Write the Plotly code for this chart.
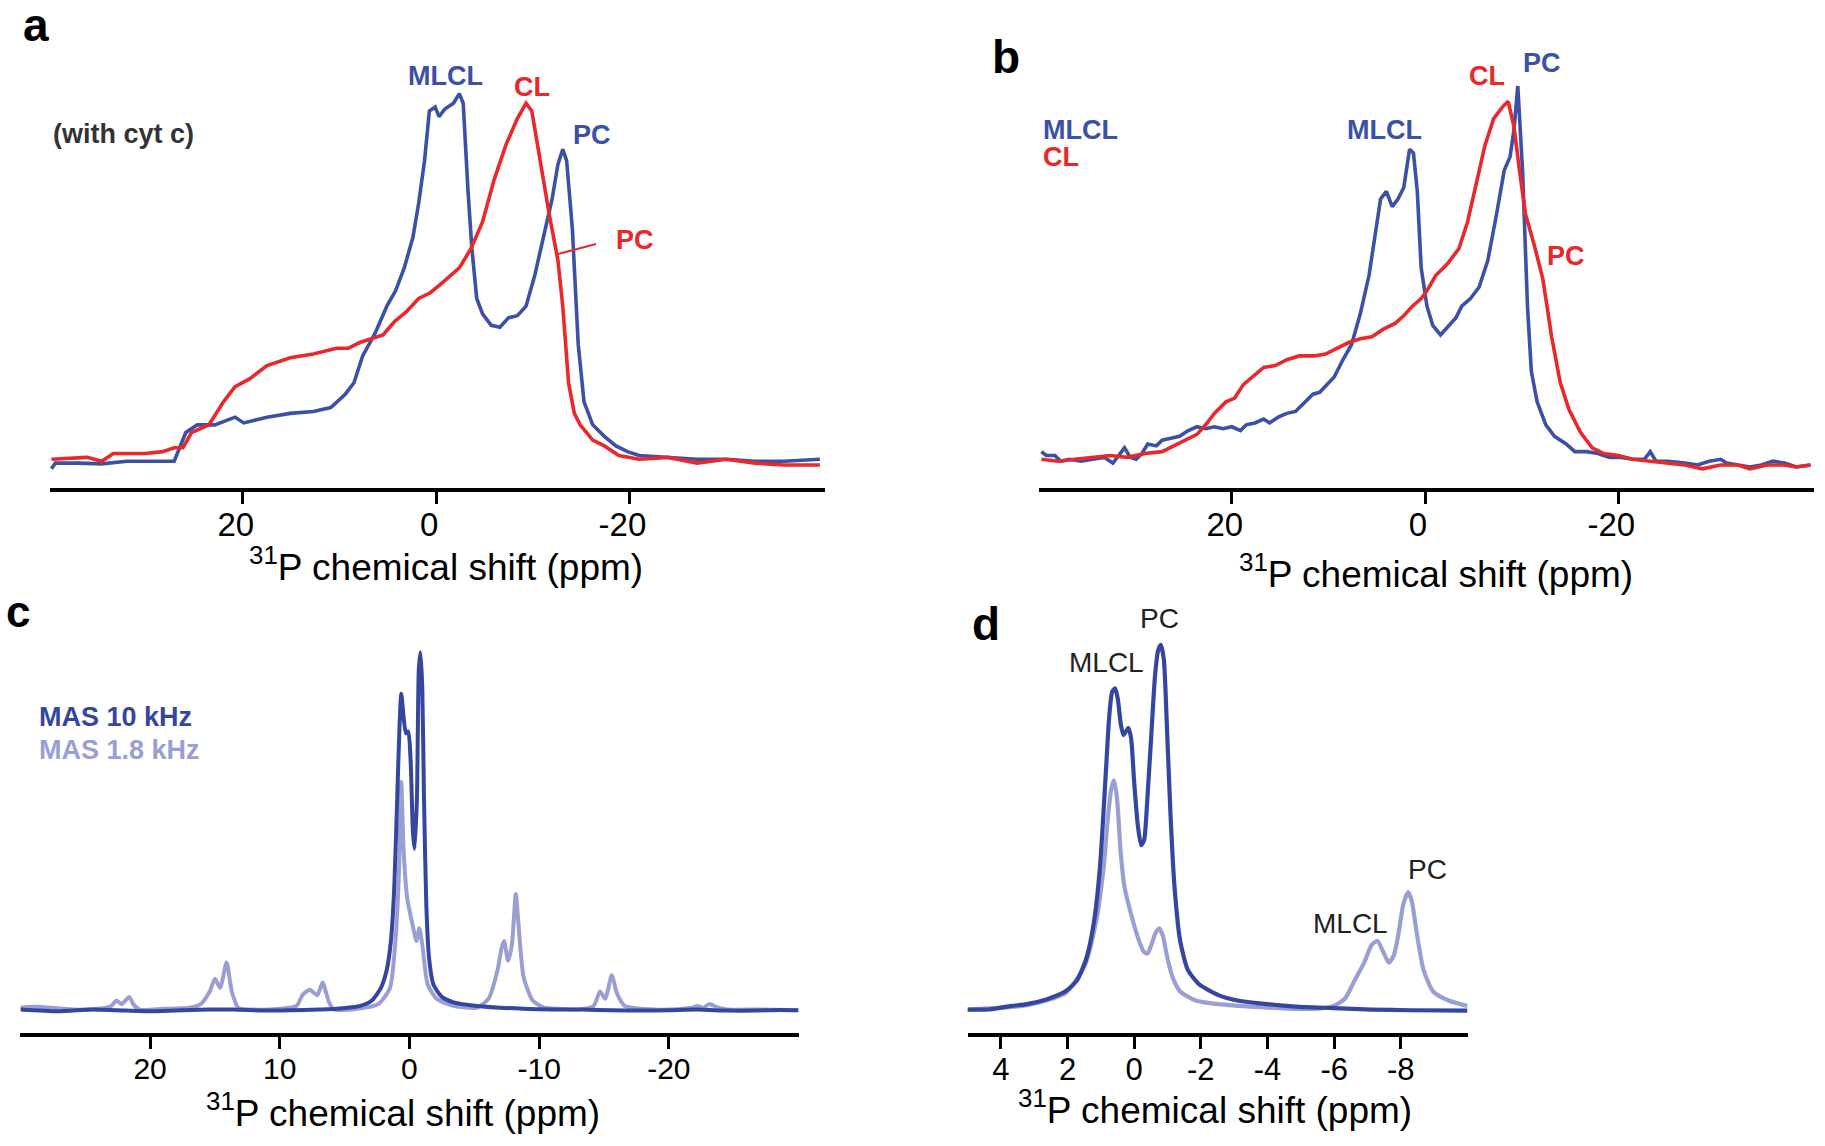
import plotly.graph_objects as go

W, H = 1825, 1146

# ---------------- data (ppm, intensity in arbitrary units) ----------------
a_blue_ppm = [39.8, 39.4, 37.0, 34.6, 32.0, 29.5, 27.1, 25.9, 24.7, 22.9, 20.8, 19.9, 17.5, 15.1, 12.7, 10.9, 10.3, 9.4, 8.5, 7.6,
              6.3, 5.1, 4.2, 3.3, 2.4, 1.8, 1.2, 0.7, 0.1, -0.3, -0.9, -1.8, -2.4, -2.8, -3.3, -3.7, -4.2, -4.8, -5.7, -6.6,
              -7.5, -8.4, -9.3, -10.2, -11.1, -12.0, -12.6, -13.1, -13.5, -14.1, -14.7, -15.3, -16.2, -17.4, -18.6, -19.8,
              -21.0, -24.0, -27.0, -30.0, -33.0, -36.0, -39.7]
a_blue_int = [2.5, 4.0, 4.0, 3.8, 4.5, 4.5, 4.5, 12.0, 14.0, 14.0, 16.0, 14.5, 16.0, 17.0, 17.5, 18.5, 20.0, 22.0, 25.0, 32.0,
              38.0, 45.0, 49.0, 55.0, 63.0, 72.0, 83.0, 96.0, 97.0, 94.5, 96.5, 98.0, 100.5, 98.0, 75.0, 60.0, 47.0, 43.0, 40.0, 39.5,
              42.0, 42.5, 45.0, 53.0, 63.0, 73.0, 82.0, 86.0, 83.0, 65.0, 35.0, 20.0, 14.0, 11.0, 8.5, 7.0,
              6.0, 5.5, 5.0, 5.0, 4.5, 4.5, 5.0]

a_red_ppm = [39.8, 36.1, 34.6, 33.4, 30.1, 28.3, 27.1, 26.2, 25.3, 23.5, 22.0, 20.8, 19.3, 17.5, 15.1, 12.7, 10.3, 9.1, 7.9, 5.5,
             4.3, 3.1, 1.8, 0.6, -0.6, -2.4, -3.6, -4.8, -6.0, -7.2, -8.4, -9.3, -9.9, -10.5, -11.1, -11.7, -12.6, -13.1, -13.7,
             -14.3, -14.9, -16.2, -17.4, -18.9, -21.0, -24.0, -27.0, -30.0, -33.0, -36.0, -39.7]
a_red_int = [5.0, 5.5, 4.5, 6.5, 6.5, 7.0, 8.0, 8.0, 12.0, 14.0, 20.0, 24.0, 26.0, 29.5, 31.5, 32.5, 34.0, 34.0, 35.5, 37.5,
             41.0, 43.5, 47.0, 48.5, 51.0, 55.0, 60.0, 67.0, 78.0, 87.0, 94.0, 98.0, 96.0, 87.0, 78.0, 69.0, 57.0, 45.0, 25.0,
             17.0, 14.0, 10.0, 8.5, 6.0, 5.0, 5.5, 4.0, 5.0, 4.0, 3.5, 3.5]

b_blue_ppm = [39.7, 39.2, 38.3, 37.7, 36.8, 35.6, 34.4, 33.2, 32.3, 31.7, 31.1, 30.5, 29.9, 29.3, 28.7, 27.8, 27.2, 26.3, 25.4, 24.5,
              23.6, 22.7, 21.8, 20.9, 20.0, 19.1, 18.5, 17.6, 16.7, 16.1, 15.2, 14.3, 13.4, 12.8, 11.6, 10.9, 10.0, 9.4, 8.5, 7.6,
              6.7, 5.8, 5.2, 4.6, 4.0, 3.4, 2.8, 2.2, 1.6, 1.2, 0.8, 0.4, -0.2, -0.8, -1.6, -2.3, -3.2, -3.8, -4.7, -5.6,
              -6.5, -7.4, -8.2, -8.8, -9.2, -9.6, -10.1, -10.6, -11.0, -11.6, -12.5, -13.4, -14.6, -15.5, -16.7, -17.9, -19.1, -20.3,
              -21.5, -22.7, -23.3, -23.9, -25.1, -26.9, -28.2, -29.4, -30.6, -31.2, -32.4, -33.6, -34.8, -36.0, -37.2, -38.4, -39.9]
b_blue_int = [7.0, 6.0, 6.0, 4.5, 5.0, 4.5, 5.0, 5.5, 4.0, 6.0, 8.0, 5.5, 5.0, 6.5, 9.0, 8.5, 10.0, 10.5, 11.0, 12.5,
              13.5, 13.0, 13.5, 13.0, 13.5, 12.5, 14.0, 14.5, 15.5, 14.5, 16.0, 17.0, 17.5, 19.0, 22.0, 22.5, 25.0, 26.5, 31.0, 35.0,
              43.0, 53.0, 63.0, 73.0, 75.0, 71.0, 73.0, 76.0, 86.0, 85.0, 75.0, 55.0, 45.0, 40.0, 37.5, 39.5, 42.0, 45.0, 47.0, 50.0,
              57.0, 69.0, 80.5, 84.0, 91.0, 102.5, 80.0, 45.0, 28.0, 20.0, 14.0, 11.0, 9.0, 7.0, 7.0, 6.5, 5.5, 5.5,
              5.0, 5.0, 7.0, 4.5, 4.5, 4.0, 3.5, 4.5, 5.0, 4.0, 3.5, 3.0, 3.5, 4.5, 4.0, 3.0, 3.5]

b_red_ppm = [39.7, 38.0, 36.2, 34.4, 32.6, 30.8, 29.0, 27.2, 26.0, 24.8, 23.6, 22.7, 21.8, 20.6, 19.7, 18.8, 17.6, 16.7, 15.5, 14.3,
             13.0, 11.5, 10.3, 9.1, 7.9, 6.7, 5.5, 4.3, 3.1, 2.2, 1.3, 0.4, -0.2, -1.1, -2.3, -3.5, -4.4, -5.3, -6.2, -7.1,
             -8.0, -8.6, -9.2, -9.8, -10.4, -11.3, -12.2, -13.1, -14.0, -14.9, -16.1, -17.3, -18.5, -20.0, -21.5, -23.3, -25.1,
             -26.9, -28.7, -30.6, -32.4, -33.6, -35.4, -37.2, -38.4, -39.9]
b_red_int = [5.0, 4.5, 5.0, 5.5, 6.0, 5.5, 6.5, 7.0, 8.5, 10.0, 11.5, 14.0, 17.0, 20.0, 21.0, 24.5, 27.0, 29.0, 29.5, 31.0,
             32.0, 32.0, 32.5, 34.0, 35.5, 36.5, 37.0, 39.0, 40.5, 42.5, 45.0, 47.0, 49.0, 53.0, 56.0, 60.0, 67.0, 77.0, 87.0, 94.0,
             97.0, 98.5, 92.0, 80.0, 69.0, 61.0, 52.0, 37.0, 25.0, 18.0, 12.0, 8.0, 6.5, 6.0, 5.0, 4.5, 4.0,
             3.5, 2.5, 3.5, 3.5, 2.5, 3.5, 3.5, 3.0, 3.5]

c_fast_ppm = [30.0, 27.1, 24.5, 22.6, 20.0, 18.1, 15.5, 13.6, 11.0, 9.1, 7.0, 5.6, 3.8, 2.9, 2.2, 1.75, 1.43, 1.17, 0.94, 0.76,
              0.63, 0.45, 0.27, 0.09, -0.09, -0.27, -0.4, -0.58, -0.72, -0.85, -0.99, -1.12, -1.3, -1.52, -1.84, -2.5, -3.4, -5.2,
              -8.8, -11.0, -13.3, -15.5, -17.8, -20.0, -22.2, -24.5, -26.7, -28.5, -30.0]
c_fast_int = [6.0, 5.5, 6.0, 5.8, 5.5, 5.7, 6.0, 6.0, 5.7, 5.8, 6.0, 6.2, 7.0, 8.5, 12.0, 17.0, 25.0, 40.0, 65.0, 85.0,
              93.5, 87.0, 82.5, 83.0, 75.0, 55.0, 50.5, 65.0, 100.0, 105.0, 95.0, 65.0, 35.0, 20.0, 13.0, 9.5, 8.0, 7.0,
              6.2, 6.0, 6.0, 5.8, 5.7, 5.8, 6.0, 5.7, 5.7, 5.9, 5.8]

c_slow_ppm = [30.0, 28.9, 26.0, 24.0, 23.0, 22.6, 22.2, 21.6, 21.3, 20.8, 19.0, 17.0, 16.1, 15.4, 15.0, 14.6, 14.1, 13.7, 13.2, 12.0,
              10.0, 8.7, 8.25, 7.7, 7.1, 6.7, 6.2, 5.8, 4.0, 2.4, 1.5, 1.08, 0.8, 0.63, 0.45, 0.18, -0.27, -0.54, -0.76, -0.99,
              -1.4, -2.1, -3.4, -5.2, -6.1, -6.8, -7.1, -7.3, -7.6, -7.9, -8.2, -8.4, -8.8, -9.5, -10.4, -11.5, -13.0, -14.2, -14.7,
              -15.1, -15.6, -16.0, -16.6, -17.8, -20.0, -21.8, -22.2, -22.7, -23.1, -23.8, -24.5, -27.0, -30.0]
c_slow_int = [6.5, 6.8, 6.0, 6.2, 7.0, 8.5, 7.5, 9.5, 7.5, 6.0, 6.2, 6.5, 7.5, 11.0, 14.5, 12.0, 19.0, 11.0, 6.5, 6.0,
              6.2, 7.0, 10.0, 11.5, 10.0, 13.5, 8.0, 6.0, 6.2, 7.5, 12.0, 25.0, 45.0, 69.0, 50.0, 37.0, 29.0, 25.0, 28.5, 24.0,
              13.0, 9.0, 7.0, 6.5, 9.0, 17.0, 23.0, 25.0, 19.5, 24.0, 38.0, 30.0, 15.0, 8.5, 6.5, 6.2, 6.0, 7.0, 11.0,
              9.0, 15.5, 10.5, 7.0, 6.2, 6.0, 6.5, 7.0, 6.5, 7.5, 6.5, 6.0, 6.0, 5.8]

d_fast_ppm = [5.0, 4.37, 3.68, 3.22, 2.64, 2.07, 1.72, 1.44, 1.21, 1.03, 0.86, 0.75, 0.66, 0.57, 0.49, 0.40, 0.32, 0.25, 0.17, 0.09,
              0.0, -0.11, -0.21, -0.3, -0.4, -0.52, -0.63, -0.72, -0.8, -0.89, -0.98, -1.09, -1.21, -1.38, -1.61, -1.95, -2.53,
              -3.1, -3.68, -4.83, -5.98, -7.13, -8.28, -10.0]
d_fast_int = [6.0, 6.0, 7.0, 7.5, 8.8, 11.0, 14.0, 20.0, 30.0, 45.0, 70.0, 87.0, 94.0, 95.0, 92.0, 85.0, 82.0, 83.0, 84.0, 81.0,
              69.0, 57.0, 51.5, 53.0, 65.0, 83.0, 99.0, 105.5, 107.0, 103.0, 85.0, 60.0, 40.0, 25.0, 17.0, 13.0, 10.0,
              8.5, 7.8, 6.8, 6.4, 6.0, 5.8, 5.7]

d_slow_ppm = [5.0, 3.22, 2.07, 1.49, 1.15, 0.92, 0.78, 0.69, 0.61, 0.52, 0.40, 0.29, 0.11, -0.11, -0.29, -0.4, -0.52, -0.63, -0.75,
              -0.86, -0.98, -1.15, -1.38, -1.84, -2.53, -3.68, -4.83, -5.4, -5.98, -6.32, -6.61, -6.9, -7.13, -7.3, -7.47, -7.64,
              -7.79, -7.93, -8.07, -8.22, -8.33, -8.48, -8.68, -8.97, -9.43, -10.0]
d_slow_int = [6.0, 7.2, 10.5, 18.0, 30.0, 45.0, 60.0, 67.0, 69.5, 65.0, 49.0, 40.0, 33.0, 26.0, 22.0, 21.5, 24.0, 27.0, 28.5,
              26.5, 21.0, 15.0, 11.0, 8.5, 7.5, 6.7, 6.2, 6.2, 7.0, 9.0, 14.0, 19.0, 24.0, 25.0, 22.0, 19.0,
              21.0, 27.0, 35.0, 38.5, 36.0, 27.0, 17.0, 11.0, 8.5, 7.0]

ticks_ab = [20, 0, -20]
ticks_c = [20, 10, 0, -10, -20]
ticks_d = [4, 2, 0, -2, -4, -6, -8]
axis_title = "<sup>31</sup>P chemical shift (ppm)"

# ---------------- styling ----------------
BLUE = "#3c50a6"
RED = "#e8282b"
DARK = "#3546a0"
LIGHT = "#9a9fd3"
FONT = "Liberation Sans, Arial, sans-serif"


def px(x):
    return x / W


def py(y):
    return 1 - y / H


fig = go.Figure()

panels = {
    # name: (axis id, x pixel span, y pixel span (top, bottom), xrange, yrange, ticks, label shift, font size, standoff)
    "a": ("", (49.5, 824.7), (60, 488), [40, -40.2], [-2.5, 109.3], ticks_ab, 7, 33, -8),
    "b": ("2", (1038.5, 1813.5), (60, 488), [40, -40.2], [-2.5, 109.3], ticks_ab, 7, 33, -8),
    "c": ("3", (20.4, 798.5), (620, 1033), [30, -30], [-0.5, 113.9], ticks_c, 0, 30, -6),
    "d": ("4", (967.5, 1467.5), (620, 1033), [5, -10], [-0.5, 113.9], ticks_d, 0, 31, -6),
}

series = [
    ("a", a_blue_ppm, a_blue_int, BLUE, 3.6, "linear"),
    ("a", a_red_ppm, a_red_int, RED, 3.6, "linear"),
    ("b", b_blue_ppm, b_blue_int, BLUE, 3.6, "linear"),
    ("b", b_red_ppm, b_red_int, RED, 3.6, "linear"),
    ("c", c_slow_ppm, c_slow_int, LIGHT, 4.0, "spline"),
    ("c", c_fast_ppm, c_fast_int, DARK, 4.0, "spline"),
    ("d", d_slow_ppm, d_slow_int, LIGHT, 4.2, "spline"),
    ("d", d_fast_ppm, d_fast_int, DARK, 4.2, "spline"),
]

for name, xs, ys, col, lw, shape in series:
    sid = panels[name][0]
    line = dict(color=col, width=lw, shape=shape)
    if shape == "spline":
        line["smoothing"] = 0.6
    fig.add_trace(go.Scatter(x=xs, y=ys, mode="lines", line=line, showlegend=False,
                             xaxis="x" + sid, yaxis="y" + sid, hoverinfo="skip"))

layout = dict(width=W, height=H, margin=dict(l=0, r=0, t=0, b=0),
              paper_bgcolor="white", plot_bgcolor="white", showlegend=False)
for name, (sid, (x0, x1), (yt, yb), xr, yr, tv, shift, tfs, stand) in panels.items():
    layout["xaxis" + sid] = dict(domain=[px(x0), px(x1)], range=xr, anchor="y" + sid,
                                 showline=True, linecolor="black", linewidth=4,
                                 ticks="outside", ticklen=12, tickwidth=3, tickcolor="black",
                                 tickvals=tv, ticktext=[str(v) for v in tv],
                                 tickfont=dict(family=FONT, size=tfs, color="black"),
                                 ticklabelshift=shift, ticklabelstandoff=stand,
                                 showgrid=False, zeroline=False, fixedrange=True)
    layout["yaxis" + sid] = dict(domain=[py(yb), py(yt)], range=yr, anchor="x" + sid,
                                 visible=False, showgrid=False, zeroline=False, fixedrange=True)
fig.update_layout(**layout)

ann = []


def text(x, y, s, size, color="black", bold=False, xanchor="center"):
    ann.append(dict(x=px(x), y=py(y), xref="paper", yref="paper", text=("<b>%s</b>" % s) if bold else s,
                    showarrow=False, xanchor=xanchor, yanchor="middle",
                    font=dict(family=FONT, size=size, color=color)))


# panel letters
text(36, 25, "a", 46, bold=True)
text(1006, 57, "b", 46, bold=True)
text(18, 611, "c", 44, bold=True)
text(986, 624, "d", 46, bold=True)

# axis titles
text(446, 564, axis_title, 37)
text(1436, 571, axis_title, 37)
text(403, 1110, axis_title, 37)
text(1215, 1107, axis_title, 37)

# panel a labels
text(51, 134, "(with cyt c)", 27, color="#333333", bold=True, xanchor="left")
text(445, 76, "MLCL", 27, BLUE, True)
text(532, 87, "CL", 27, RED, True)
text(592, 135, "PC", 27, BLUE, True)
text(635, 240, "PC", 27, RED, True)

# panel b labels
text(1041, 130, "MLCL", 27, BLUE, True, "left")
text(1041, 157, "CL", 27, RED, True, "left")
text(1384, 130, "MLCL", 27, BLUE, True)
text(1487, 76, "CL", 27, RED, True)
text(1542, 63, "PC", 27, BLUE, True)
text(1566, 256, "PC", 27, RED, True)

# panel c legend text
text(37, 717, "MAS 10 kHz", 27, DARK, True, "left")
text(37, 750, "MAS 1.8 kHz", 27, LIGHT, True, "left")

# panel d labels
text(1106, 662, "MLCL", 28, "#222222")
text(1159, 619, "PC", 28, "#222222")
text(1350, 923, "MLCL", 28, "#222222")
text(1427, 869, "PC", 28, "#222222")

fig.update_layout(annotations=ann,
                  shapes=[dict(type="line", xref="paper", yref="paper",
                               x0=px(558), y0=py(254), x1=px(596), y1=py(244),
                               line=dict(color=RED, width=2))])

fig.write_html("out.html", config={"displayModeBar": False, "staticPlot": True},
               post_script="document.body.style.margin='0';document.body.style.padding='0';"
                           "document.documentElement.style.overflow='hidden';")
